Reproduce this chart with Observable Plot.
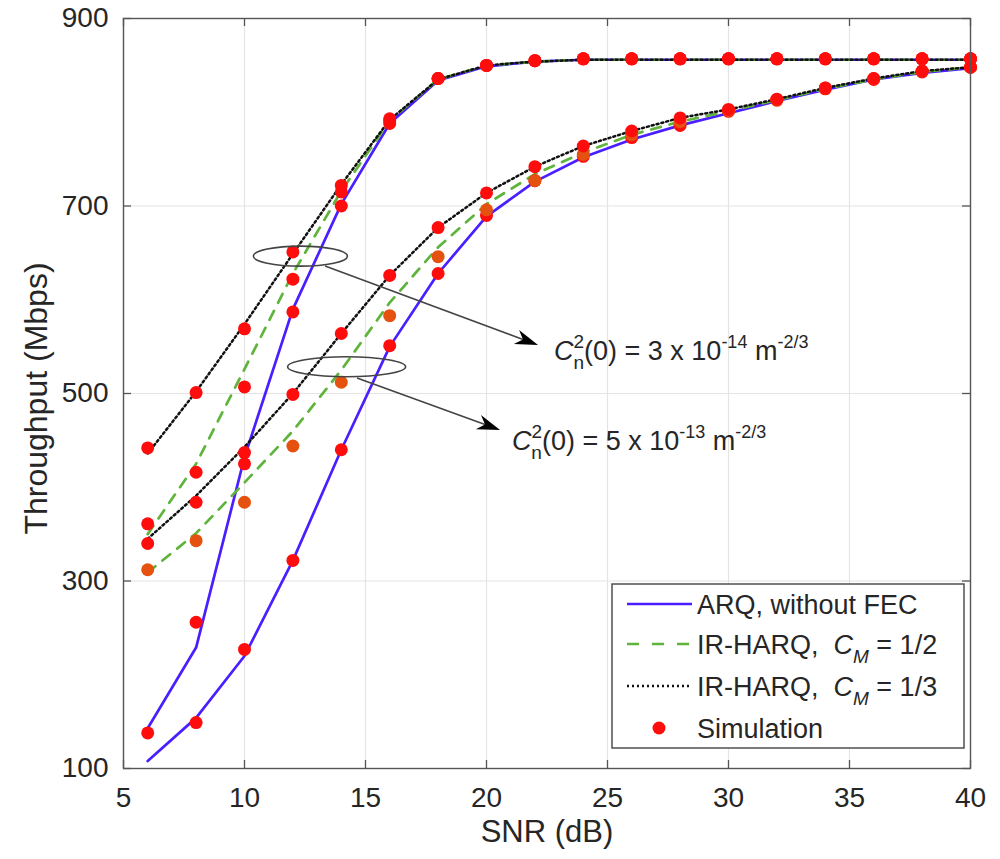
<!DOCTYPE html>
<html>
<head>
<meta charset="utf-8">
<script src="https://cdn.jsdelivr.net/npm/d3@7"></script>
<script src="https://cdn.jsdelivr.net/npm/@observablehq/plot@0.6"></script>
<style>
  body { margin: 0; background: #fff; }
  svg { display: block; }
  text { white-space: pre; }
</style>
</head>
<body>
<div id="chart"></div>
<script>
// ---------- data ----------
const snr = [6, 8, 10, 12, 14, 16, 18, 20, 22, 24, 26, 28, 30, 32, 34, 36, 38, 40];
const xTicks = [5, 10, 15, 20, 25, 30, 35, 40];
const yTicks = [100, 300, 500, 700, 900];

// Cn2(0) = 3e-14 : analytical curves
const arqA   = [143, 229, 432, 590, 702, 788, 834, 849, 854, 856, 856, 856, 856, 856, 856, 856, 856, 856];
const harq2A = [350, 425, 526, 628, 716, 791, 835, 850, 854, 856, 856, 856, 856, 856, 856, 856, 856, 856];
const harq3A = [436, 502, 574, 649, 723, 792, 835, 850, 854, 856, 856, 856, 856, 856, 856, 856, 856, 856];
// Cn2(0) = 5e-13 : analytical curves
const arqB   = [108, 154, 220, 322, 440, 550, 628, 689, 726, 752, 771, 786, 799, 812, 824, 835, 842, 847];
const harq2B = [309, 351, 405, 460, 525, 597, 656, 702, 734, 757, 776, 790, 801, 813, 825, 835, 843, 848];
const harq3B = [345, 391, 443, 500, 564, 626, 677, 714, 742, 764, 780, 794, 803, 814, 826, 836, 844, 848];

// simulation points
const simArqA   = [138, 256, 425, 587, 700, 788, 836, 850, 855, 857, 857, 857, 857, 857, 857, 857, 857, 857];
const simHarq2A = [361, 416, 507, 622, 715, 791, 836, 850, 855, 857, 857, 857, 857, 857, 857, 857, 857, 857];
const simHarq3A = [442, 501, 569, 651, 722, 793, 836, 850, 855, 857, 857, 857, 857, 857, 857, 857, 857, 857];
const simArqB   = [null, 149, 227, 322, 440, 551, 628, 690, 727, 753, 773, 786, 801, 813, 825, 835, 843, 848];
const simHarq2B = [312, 343, 384, 444, 512, 583, 646, 696, 727, 755, 776, 790, 802, 813, 826, 836, 844, 848];
const simHarq3B = [340, 384, 437, 499, 564, 626, 677, 714, 742, 764, 780, 794, 803, 814, 826, 836, 844, 848];

const legendLabels = ["ARQ, without FEC", "IR-HARQ, ", "IR-HARQ, ", "Simulation"];
const legendRates = [null, "= 1/2", "= 1/3", null];
const annoCoef = ["3", "5"];
const annoExp = ["-14", "-13"];
const xLabel = "SNR (dB)";
const yLabel = "Throughput (Mbps)";

// ---------- styles ----------
const FONT = "'Liberation Sans', Arial, Helvetica, sans-serif";
const BLUE = "#4a1fff", GREEN = "#5fb43c", BLACK = "#111", RED = "#ff0d0d", ORANGE = "#e5520f";
const TXT = "#262626", AX = "#555";

const toRows = (vals, name) => vals.map((v, i) => ({snr: snr[i], v, name})).filter(d => d.v != null);

const sims = [
  ...toRows(simArqA, "arqA"), ...toRows(simHarq2A, "h2A"), ...toRows(simHarq3A, "h3A"),
  ...toRows(simArqB, "arqB"), ...toRows(simHarq2B, "h2B"), ...toRows(simHarq3B, "h3B")
];
const simFill = d => d.name === "h2B" ? ORANGE : RED;

const W = 1000, H = 859, mL = 123, mR = 30, mT = 18, mB = 91;
const pw = W - mL - mR, ph = H - mT - mB, tk = 8;

const lineSolid = {x: "snr", y: "v", stroke: BLUE, strokeWidth: 2.7};
const lineDash  = {x: "snr", y: "v", stroke: GREEN, strokeWidth: 2.7, strokeDasharray: "10,9"};
const lineDot   = {x: "snr", y: "v", stroke: BLACK, strokeWidth: 2.5, strokeDasharray: "2,3"};

const chart = Plot.plot({
  width: W, height: H,
  marginLeft: mL, marginRight: mR, marginTop: mT, marginBottom: mB,
  style: {fontFamily: FONT, background: "#fff", color: TXT},
  x: {domain: [5, 40]},
  y: {domain: [100, 900]},
  marks: [
    Plot.gridX(xTicks, {stroke: "#e4e4e4", strokeOpacity: 1, strokeWidth: 1.2}),
    Plot.gridY(yTicks, {stroke: "#e4e4e4", strokeOpacity: 1, strokeWidth: 1.2}),
    Plot.line(toRows(arqA, "arqA"), lineSolid),
    Plot.line(toRows(arqB, "arqB"), lineSolid),
    Plot.line(toRows(harq2A, "h2A"), lineDash),
    Plot.line(toRows(harq2B, "h2B"), lineDash),
    Plot.line(toRows(harq3A, "h3A"), lineDot),
    Plot.line(toRows(harq3B, "h3B"), lineDot),
    Plot.dot(sims, {x: "snr", y: "v", r: 6.5, fill: simFill, stroke: null}),
    Plot.frame({stroke: AX, strokeWidth: 1.4}),
    Plot.tickX(xTicks, {x: d => d, insetTop: ph - tk, stroke: AX, strokeWidth: 1.3}),
    Plot.tickX(xTicks, {x: d => d, insetBottom: ph - tk, stroke: AX, strokeWidth: 1.3}),
    Plot.tickY(yTicks, {y: d => d, insetRight: pw - tk, stroke: AX, strokeWidth: 1.3}),
    Plot.tickY(yTicks, {y: d => d, insetLeft: pw - tk, stroke: AX, strokeWidth: 1.3}),
    Plot.axisX(xTicks, {tickSize: 0, tickPadding: 19, fontSize: 28, label: null, fill: TXT}),
    Plot.axisY(yTicks, {tickSize: 0, tickPadding: 15, fontSize: 28, label: null, fill: TXT}),
    Plot.text([xLabel], {text: d => d, frameAnchor: "bottom", textAnchor: "middle", dy: 73, fontSize: 31, fill: TXT}),
    Plot.text([yLabel], {text: d => d, frameAnchor: "left", textAnchor: "middle", dx: -87, dy: 5, rotate: -90, fontSize: 32, fill: TXT})
  ]
});
document.getElementById("chart").appendChild(chart);

// ---------- annotations (placed through the chart's scales) ----------
const xs = chart.scale("x"), ys = chart.scale("y");
const svg = d3.select(chart);
const ann = svg.append("g").attr("font-family", FONT).attr("text-anchor", "start");

const ellipseCfg = [{x: 12.33, y: 646, rx: 47, ry: 10}, {x: 14.24, y: 528, rx: 59, ry: 10}];
const arrowCfg = [
  {x1: 13.35, y1: 635.5, x2: 22.15, y2: 551.2},
  {x1: 14.67, y1: 516, x2: 20.58, y2: 460.5}
];
const textCfg = [{x: 22.81, y: 535.2}, {x: 21.07, y: 439.2}];

ellipseCfg.forEach(e => {
  ann.append("ellipse")
    .attr("cx", xs.apply(e.x)).attr("cy", ys.apply(e.y))
    .attr("rx", e.rx).attr("ry", e.ry)
    .attr("fill", "none").attr("stroke", "#444").attr("stroke-width", 1.6);
});

arrowCfg.forEach(a => {
  const X1 = xs.apply(a.x1), Y1 = ys.apply(a.y1), X2 = xs.apply(a.x2), Y2 = ys.apply(a.y2);
  const dx = X2 - X1, dy = Y2 - Y1, len = Math.hypot(dx, dy);
  const ux = dx / len, uy = dy / len, nx = -uy, ny = ux;
  const L = 23, w = 7.5, notch = 7;
  ann.append("line")
    .attr("x1", X1).attr("y1", Y1)
    .attr("x2", X2 - ux * (L - notch)).attr("y2", Y2 - uy * (L - notch))
    .attr("stroke", "#444").attr("stroke-width", 1.6);
  const pts = [
    [X2, Y2],
    [X2 - ux * L + nx * w, Y2 - uy * L + ny * w],
    [X2 - ux * (L - notch), Y2 - uy * (L - notch)],
    [X2 - ux * L - nx * w, Y2 - uy * L - ny * w]
  ];
  ann.append("path").attr("d", "M" + pts.map(p => p.join(",")).join("L") + "Z").attr("fill", "#000");
});

textCfg.forEach((t, i) => {
  const el = ann.append("text")
    .attr("x", xs.apply(t.x)).attr("y", ys.apply(t.y))
    .attr("font-size", 27).attr("fill", TXT);
  el.append("tspan").attr("font-style", "italic").text("C");
  el.append("tspan").attr("font-size", 19).attr("dy", -12).text("2");
  el.append("tspan").attr("font-size", 19).attr("dx", -10.6).attr("dy", 21).text("n");
  el.append("tspan").attr("dy", -9).text("(0) = " + annoCoef[i] + " x 10");
  el.append("tspan").attr("font-size", 18).attr("dy", -12).text(annoExp[i]);
  el.append("tspan").attr("dy", 12).text(" m");
  el.append("tspan").attr("font-size", 18).attr("dy", -12).text("-2/3");
});

// ---------- legend ----------
const lg = svg.append("g").attr("font-family", FONT).attr("text-anchor", "start");
const box = {x: 612, y: 584, w: 352, h: 164};
lg.append("rect").attr("x", box.x).attr("y", box.y).attr("width", box.w).attr("height", box.h)
  .attr("fill", "#fff").attr("stroke", "#444").attr("stroke-width", 1.4);
const rowY = [604, 644, 686, 728];
const styles = [
  {stroke: BLUE, width: 2.7, dash: null},
  {stroke: GREEN, width: 2.7, dash: "12,13"},
  {stroke: BLACK, width: 2.4, dash: "2,3"},
  null
];
legendLabels.forEach((lab, i) => {
  const cy = rowY[i];
  if (styles[i]) {
    const s = styles[i];
    const ln = lg.append("line").attr("x1", 627).attr("x2", 692).attr("y1", cy).attr("y2", cy)
      .attr("stroke", s.stroke).attr("stroke-width", s.width);
    if (s.dash) ln.attr("stroke-dasharray", s.dash);
  } else {
    lg.append("circle").attr("cx", 659).attr("cy", cy).attr("r", 6.5).attr("fill", RED);
  }
  const tx = lg.append("text").attr("x", 697).attr("y", cy + 9.5).attr("font-size", 27).attr("fill", TXT);
  tx.append("tspan").text(lab);
  if (legendRates[i]) {
    tx.append("tspan").attr("font-style", "italic").text(" C");
    tx.append("tspan").attr("font-style", "italic").attr("font-size", 19).attr("dy", 9).text("M");
    tx.append("tspan").attr("dy", -9).text(" " + legendRates[i]);
  }
});
</script>
</body>
</html>
